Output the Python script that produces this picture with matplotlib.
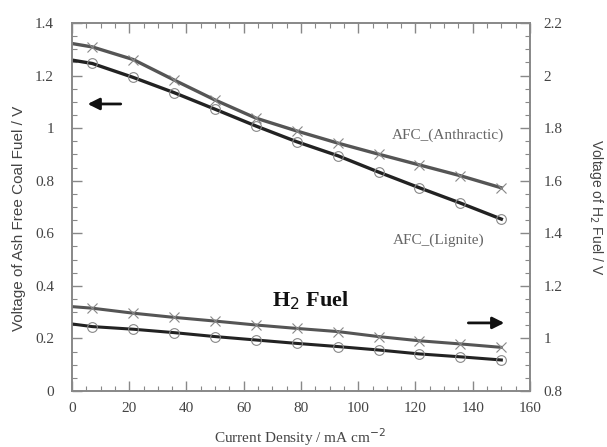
import matplotlib
matplotlib.use("Agg")
import matplotlib.pyplot as plt

# current density (mA cm-2)
x_pts = [7.1, 21.4, 35.7, 50.0, 64.3, 78.6, 92.9, 107.1, 121.4, 135.7, 150.0]

# ash free coal fuel (left axis), value at 0 first
anth_0 = 1.322
anth = [1.309, 1.261, 1.183, 1.107, 1.038, 0.989, 0.943, 0.901, 0.860, 0.819, 0.773]
lig_0 = 1.259
lig = [1.246, 1.193, 1.135, 1.072, 1.008, 0.948, 0.895, 0.833, 0.773, 0.715, 0.654]

# H2 fuel (right axis)
h2_up_0 = 1.121
h2_up = [1.115, 1.096, 1.080, 1.066, 1.051, 1.038, 1.026, 1.007, 0.991, 0.979, 0.966]
h2_lo_0 = 1.055
h2_lo = [1.045, 1.035, 1.022, 1.007, 0.994, 0.981, 0.969, 0.956, 0.941, 0.930, 0.918]

grey = "#555555"
lab = "#444444"
spine = "#888888"

plt.rcParams["font.family"] = ["Liberation Serif", "DejaVu Serif"]

fig = plt.figure(figsize=(6.07, 4.47), dpi=100)
ax = fig.add_axes([0.1186, 0.1253, 0.7545, 0.8232])
ax2 = ax.twinx()

xl = [0] + x_pts
ax.plot(xl, [anth_0] + anth, color=grey, lw=2.4)
ax.plot(x_pts, anth, ls="none", marker="x", ms=7, mec="#888888", mew=0.8)
ax.plot(xl, [lig_0] + lig, color="#222222", lw=2.4)
ax.plot(x_pts, lig, ls="none", marker="o", ms=7, mfc="none", mec="#888888", mew=0.8)

ax2.plot(xl, [h2_up_0] + h2_up, color=grey, lw=2.2)
ax2.plot(x_pts, h2_up, ls="none", marker="x", ms=7, mec="#888888", mew=0.8)
ax2.plot(xl, [h2_lo_0] + h2_lo, color="#222222", lw=2.2)
ax2.plot(x_pts, h2_lo, ls="none", marker="o", ms=7, mfc="none", mec="#888888", mew=0.8)

ax.set_xlim(0, 160)
ax.set_ylim(0, 1.4)
ax2.set_ylim(0.8, 2.2)
ax.set_xticks(range(0, 161, 20))
ax.set_xticks(range(0, 161, 5), minor=True)
ax.set_yticks([0, 0.2, 0.4, 0.6, 0.8, 1.0, 1.2, 1.4])
ax.set_yticklabels(["0", "0.2", "0.4", "0.6", "0.8", "1", "1.2", "1.4"])
ax.set_yticks([i * 0.05 for i in range(29)], minor=True)
ax2.set_yticks([0.8, 1.0, 1.2, 1.4, 1.6, 1.8, 2.0, 2.2])
ax2.set_yticklabels(["0.8", "1", "1.2", "1.4", "1.6", "1.8", "2", "2.2"])
ax2.set_yticks([0.8 + i * 0.05 for i in range(29)], minor=True)

ax.tick_params(axis="x", which="both", direction="in", top=True, colors=lab, labelsize=11, pad=8)
ax.tick_params(axis="y", which="both", direction="in", colors=lab, labelsize=11, pad=13)
ax2.tick_params(axis="y", which="both", direction="in", colors=lab, labelsize=11, pad=10)
for a in (ax, ax2):
    a.tick_params(which="major", length=7, width=1.0, color=spine)
    a.tick_params(which="minor", length=3.5, width=0.8, color=spine)
    for s in a.spines.values():
        s.set_color(spine)
        s.set_linewidth(1.2)

ax.set_ylabel("Voltage of Ash Free Coal Fuel / V", family=["Liberation Sans"], color=lab, fontsize=11, labelpad=12)
ax.yaxis.set_label_coords(-0.1, 0.47)
ax2.set_ylabel("Voltage of H$_2$ Fuel / V", family=["Liberation Sans"], color=lab, fontsize=10, rotation=270, labelpad=30)
fig.text(0.494, 0.022, "Current Density / mA cm$^{-2}$", ha="center", va="center", color=lab, fontsize=11)

ax.text(151, 0.974, "AFC_(Anthractic)", ha="right", va="center", color="#666666", fontsize=11)
ax.text(144, 0.574, "AFC_(Lignite)", ha="right", va="center", color="#666666", fontsize=11)
ax.text(83.5, 0.345, "H$_2$ Fuel", ha="center", va="center", color="#111111", fontsize=16, fontweight="bold")

ax.annotate("", xy=(4.5, 1.092), xytext=(18, 1.092),
            arrowprops=dict(arrowstyle="-|>,head_width=0.35,head_length=0.7", color="#111111", lw=2))
ax.annotate("", xy=(152, 0.259), xytext=(137.5, 0.259),
            arrowprops=dict(arrowstyle="-|>,head_width=0.35,head_length=0.7", color="#111111", lw=2))

fig.savefig("out.png", dpi=100)
